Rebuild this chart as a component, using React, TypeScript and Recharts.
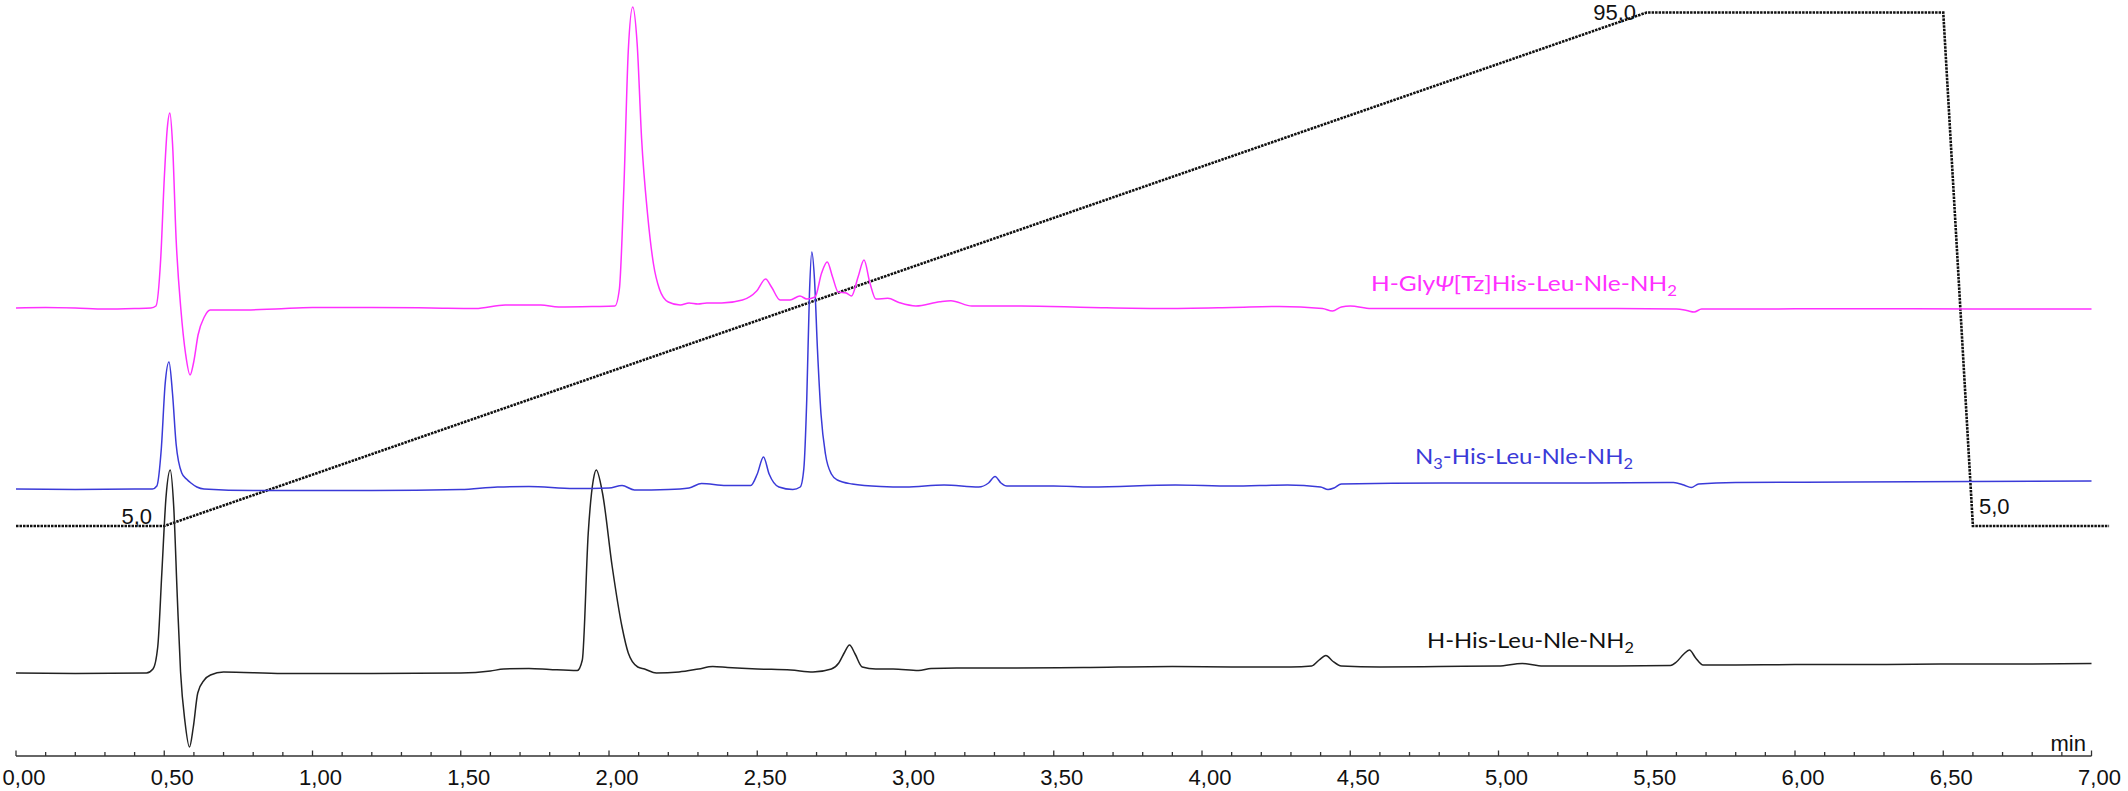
import React from 'react';
import { LineChart, Line, XAxis, YAxis, ReferenceLine } from 'recharts';

// ---- gradient programme (% B) ----
const gradientProgramme: [number, number][] = [
  [0, 5], [0.5, 5], [5.5, 95], [6.5, 95], [6.6, 5], [7.06, 5],
];

// ---- chromatograms: [time (min), signal (mAU, above own baseline)] ----
const tracePsiTz: [number, number][] = [
  [0, 1], [0.1, 1.5], [0.2, 1], [0.3, 0], [0.4, 0.5], [0.455, 1], [0.472, 3], [0.488, 50],
  [0.5, 130], [0.51, 180], [0.519, 196], [0.528, 165], [0.54, 70], [0.556, 0], [0.572, -45],
  [0.587, -66], [0.6, -52], [0.614, -26], [0.635, -8], [0.655, -1], [0.75, -1], [0.875, 0],
  [1.0, 1.5], [1.2, 1.5], [1.4, 1], [1.55, 0.5], [1.65, 4], [1.77, 4], [1.83, 2], [1.95, 2.5],
  [2.02, 3], [2.035, 20], [2.05, 120], [2.065, 258], [2.08, 302], [2.095, 265], [2.11, 170],
  [2.13, 95], [2.15, 45], [2.17, 20], [2.2, 7], [2.24, 4], [2.27, 6], [2.3, 5], [2.33, 6],
  [2.38, 6], [2.45, 9], [2.498, 18], [2.528, 30], [2.548, 22], [2.577, 9], [2.61, 9],
  [2.644, 13], [2.667, 10], [2.695, 12], [2.717, 36], [2.736, 47], [2.754, 32], [2.773, 17],
  [2.8, 16], [2.818, 13], [2.84, 32], [2.86, 49], [2.88, 26], [2.9, 10], [2.94, 10.7],
  [2.98, 6.3], [3.035, 3], [3.116, 7.3], [3.153, 8.3], [3.224, 3], [3.39, 3], [3.625, 1.5],
  [3.86, 0.5], [4.1, 1.5], [4.26, 2.5], [4.406, 0.5], [4.44, -2], [4.47, 2], [4.5, 3],
  [4.57, 0.5], [4.8, 0.5], [5.1, 0.5], [5.4, 0.5], [5.6, 0], [5.635, -1.5], [5.66, -3],
  [5.685, 0], [5.8, 0], [6.2, 0.3], [6.6, 0], [7.0, 0],
];

const traceN3: [number, number][] = [
  [0, 0], [0.2, -0.5], [0.4, 0], [0.46, 0], [0.475, 3], [0.49, 40], [0.503, 105], [0.516, 127],
  [0.528, 95], [0.54, 45], [0.559, 16], [0.575, 10], [0.59, 6], [0.61, 2], [0.634, 0],
  [0.8, -1.5], [1.0, -1.5], [1.2, -1.5], [1.5, -0.5], [1.624, 2], [1.73, 2.5], [1.882, 0.5],
  [2.0, 1], [2.044, 3.5], [2.086, -1], [2.2, -0.5], [2.27, 1], [2.312, 5.5], [2.395, 3.5],
  [2.478, 3.5], [2.5, 15], [2.521, 32], [2.54, 15], [2.573, 2], [2.62, -0.5], [2.645, 2],
  [2.657, 20], [2.667, 90], [2.676, 195], [2.684, 237], [2.693, 210], [2.703, 140], [2.715, 75],
  [2.73, 35], [2.75, 15], [2.77, 9], [2.82, 5], [2.916, 2.5], [3.0, 2], [3.13, 4], [3.247, 2],
  [3.28, 6], [3.302, 12.5], [3.322, 6], [3.342, 3], [3.5, 3], [3.625, 2], [3.91, 4], [4.1, 3],
  [4.288, 4], [4.4, 2], [4.425, -0.5], [4.445, 1], [4.47, 5], [4.81, 6], [5.28, 6], [5.59, 6.5],
  [5.625, 4], [5.65, 1.5], [5.675, 5], [5.8, 6.5], [6.2, 7], [6.6, 7.5], [7.0, 8],
];

const traceHis: [number, number][] = [
  [0, -1], [0.2, -1.5], [0.44, -1], [0.462, 3], [0.478, 25], [0.492, 100], [0.506, 175],
  [0.52, 202], [0.532, 165], [0.544, 75], [0.555, 0], [0.57, -50], [0.585, -75], [0.598, -55],
  [0.613, -21], [0.635, -8], [0.656, -3], [0.7, 0], [0.9, -1.5], [1.2, -1.5], [1.5, -1],
  [1.6, 1], [1.645, 3], [1.73, 3.5], [1.8, 2.5], [1.893, 1.5], [1.91, 12], [1.93, 139],
  [1.947, 192], [1.957, 202], [1.978, 179], [2.011, 105], [2.044, 45], [2.065, 19], [2.097, 5],
  [2.12, 3], [2.16, -1], [2.236, 0], [2.302, 3], [2.35, 5.5], [2.4, 4.5], [2.5, 3], [2.613, 2],
  [2.688, 0], [2.75, 3], [2.775, 9], [2.795, 20], [2.811, 27], [2.83, 18], [2.854, 5], [2.9, 3],
  [2.958, 3], [3.044, 1.5], [3.086, 3.5], [3.173, 4], [3.32, 4], [3.6, 4.5], [3.9, 5.5],
  [4.1, 5], [4.3, 5], [4.37, 6], [4.395, 12], [4.418, 16.5], [4.44, 11], [4.47, 6], [4.6, 5],
  [4.8, 5.5], [5.0, 6], [5.08, 8.5], [5.15, 6], [5.4, 6], [5.58, 6.5], [5.6, 10], [5.625, 18],
  [5.644, 22], [5.665, 14], [5.69, 7], [5.8, 7], [6.0, 7.5], [6.3, 7.5], [6.5, 8], [6.8, 8],
  [7.0, 8.5],
];

// ---- axis ticks ----
const majorTicks = [0, 0.5, 1, 1.5, 2, 2.5, 3, 3.5, 4, 4.5, 5, 5.5, 6, 6.5, 7];
const majorTickLabels = ['0,00', '0,50', '1,00', '1,50', '2,00', '2,50', '3,00', '3,50', '4,00',
  '4,50', '5,00', '5,50', '6,00', '6,50', '7,00'];
const minorStep = 0.1;

const W = 2128;
const H = 791;
const AXIS_FONT = '"Liberation Sans", Arial, sans-serif';
const LABEL_FONT = 'Lato, "Open Sans", "Noto Sans", sans-serif';

const toRows = (arr: [number, number][], key: string) => arr.map(([t, v]) => ({ t, [key]: v }));

const allTicks: number[] = [];
for (let i = 0; i <= 70; i++) allTicks.push(Math.round(i * minorStep * 1000) / 1000);

const AxisTick = (props: any) => {
  const { x, y, payload } = props;
  const v = payload.value as number;
  const idx = majorTicks.findIndex((m) => Math.abs(m - v) < 1e-6);
  const major = idx >= 0;
  return (
    <g>
      <line x1={x} x2={x} y1={y} y2={y - (major ? 5.5 : 4)} stroke="#333" strokeWidth={1.3} />
      {major && (
        <text x={x + 8} y={y + 28.5} textAnchor="middle" fontFamily={AXIS_FONT} fontSize={22} fill="#111">
          {majorTickLabels[idx]}
        </text>
      )}
    </g>
  );
};

export default function App() {
  const gradRows = toRows(gradientProgramme, 'b');
  const psiRows = toRows(tracePsiTz, 's');
  const n3Rows = toRows(traceN3, 's');
  const hisRows = toRows(traceHis, 's');
  const GMIN = -35.31;
  const GMAX = 97.19;
  return (
    <div style={{ position: 'absolute', left: 0, top: 0, width: W, height: H, background: '#fff' }}>
      <LineChart width={W} height={H} margin={{ top: 0, right: 18.7, left: 16, bottom: 0 }}>
        <XAxis
          type="number"
          dataKey="t"
          domain={[0, 7.06]}
          allowDataOverflow
          ticks={allTicks}
          interval={0}
          tickSize={0}
          tickMargin={0}
          axisLine={false}
          tickLine={false}
          tick={<AxisTick />}
          height={35}
        />
        <YAxis yAxisId="grad" hide domain={[GMIN, GMAX]} allowDataOverflow />
        <YAxis yAxisId="psi" hide domain={[-447, 309]} allowDataOverflow />
        <YAxis yAxisId="n3" hide domain={[-267, 489]} allowDataOverflow />
        <YAxis yAxisId="his" hide domain={[-84, 672]} allowDataOverflow />
        <ReferenceLine
          yAxisId="grad"
          segment={[{ x: 0, y: GMIN }, { x: 7, y: GMIN }]}
          stroke="#333"
          strokeWidth={1.3}
          ifOverflow="visible"
        />
        <Line yAxisId="grad" data={gradRows} dataKey="b" type="linear" stroke="#111" strokeWidth={2.6}
          strokeDasharray="2.5 1" dot={false} isAnimationActive={false} />
        <Line yAxisId="his" data={hisRows} dataKey="s" type="monotone" stroke="#222" strokeWidth={1.5}
          dot={false} isAnimationActive={false} />
        <Line yAxisId="n3" data={n3Rows} dataKey="s" type="monotone" stroke="#3a3ad8" strokeWidth={1.5}
          dot={false} isAnimationActive={false} />
        <Line yAxisId="psi" data={psiRows} dataKey="s" type="monotone" stroke="#ff30ff" strokeWidth={1.5}
          dot={false} isAnimationActive={false} />
      </LineChart>
      <svg width={W} height={H} style={{ position: 'absolute', left: 0, top: 0, pointerEvents: 'none' }}>
        <g fontFamily={AXIS_FONT} fontSize={22} fill="#111">
          <text x={152} y={524} textAnchor="end">5,0</text>
          <text x={1636} y={20} textAnchor="end">95,0</text>
          <text x={1979} y={514}>5,0</text>
          <text x={2086} y={751} textAnchor="end">min</text>
        </g>
        <g fontFamily={LABEL_FONT} fontSize={22}>
          <text x={1371} y={291} fill="#ff30ff" textLength={306} lengthAdjust="spacingAndGlyphs">
            H-Gly<tspan fontStyle="italic">Ψ</tspan>[Tz]His-Leu-Nle-NH<tspan dy={5} fontSize={15}>2</tspan>
          </text>
          <text x={1415} y={464} fill="#3a3ad8" textLength={218} lengthAdjust="spacingAndGlyphs">
            N<tspan dy={5} fontSize={15}>3</tspan><tspan dy={-5}>-His-Leu-Nle-NH</tspan><tspan dy={5} fontSize={15}>2</tspan>
          </text>
          <text x={1427} y={648} fill="#111" textLength={207} lengthAdjust="spacingAndGlyphs">
            H-His-Leu-Nle-NH<tspan dy={5} fontSize={15}>2</tspan>
          </text>
        </g>
      </svg>
    </div>
  );
}
